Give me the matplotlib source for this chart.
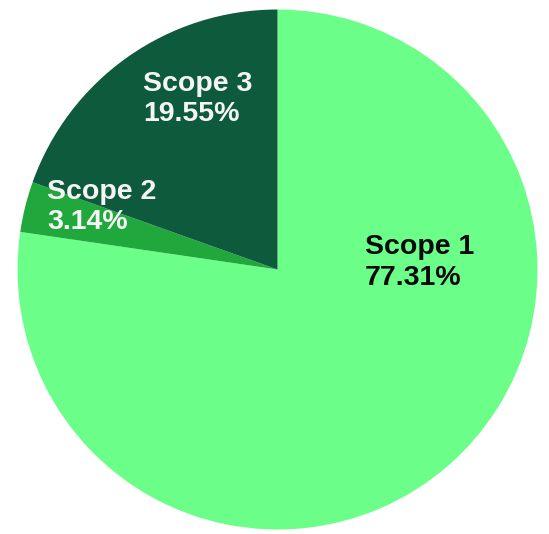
import matplotlib.pyplot as plt

# Emissions share by scope
scopes = ['Scope 1', 'Scope 2', 'Scope 3']
shares = [77.31, 3.14, 19.55]
colors = ['#6BFF8A', '#20A83D', '#0D5A3C']
text_colors = ['#0A0A0A', '#F4F4F4', '#F4F4F4']
# label anchor (left edge, vertical centre) in axes data units
label_pos = [(0.336, 0.027), (-0.887, 0.24), (-0.517, 0.655)]

fig = plt.figure(figsize=(5.49, 5.34), dpi=100)
ax = fig.add_axes([0, 0, 1, 1])
ax.pie(shares, colors=colors, startangle=90, counterclock=False,
       radius=1, center=(0, 0), wedgeprops=dict(linewidth=0))

for name, val, tc, (x, y) in zip(scopes, shares, text_colors, label_pos):
    ax.text(x, y, '%s\n%.2f%%' % (name, val), ha='left', va='center',
            fontsize=20.5, fontweight='bold', family='Liberation Sans',
            color=tc, linespacing=1.22)

ax.set_xlim(-277.5 / 260, 271.5 / 260)
ax.set_ylim(-264.5 / 260, 269.5 / 260)
ax.set_aspect('auto')
ax.axis('off')
fig.savefig('out.png', dpi=100)
